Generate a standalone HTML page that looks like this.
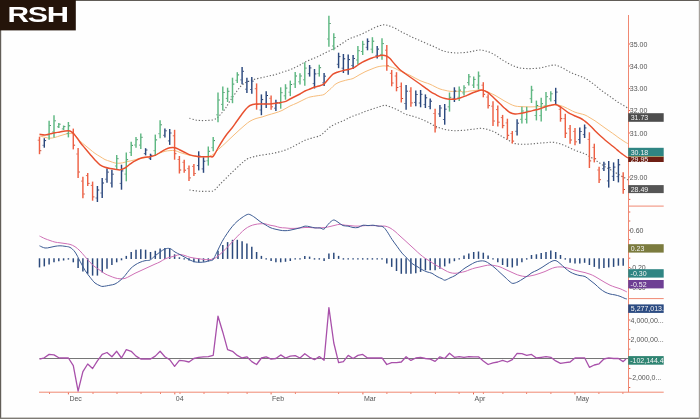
<!DOCTYPE html>
<html><head><meta charset="utf-8"><title>RSH</title>
<style>
html,body{margin:0;padding:0;background:#fff;}
body{width:700px;height:419px;overflow:hidden;}
svg{display:block;will-change:transform;}
text{font-family:"Liberation Sans",sans-serif;}
.ax{font-size:7px;fill:#555;}
.tg{font-size:7px;fill:#f4f4f4;}
.mo{font-size:7px;fill:#555;}
</style></head><body>
<svg width="700" height="419" viewBox="0 0 700 419">
<rect x="0" y="0" width="700" height="419" fill="#fefefe"/>
<rect x="0" y="0" width="700" height="0.9" fill="#504b45"/>
<rect x="0" y="0" width="1.2" height="419" fill="#625d57"/>
<rect x="0" y="417.6" width="700" height="1.4" fill="#7d7a74"/>
<rect x="698.8" y="0" width="1.2" height="419" fill="#a5a19c"/>
<rect x="0" y="0" width="75.8" height="30.4" fill="#24140a"/>
<text y="22.15" font-size="21.7" font-weight="bold" fill="#fff"><tspan x="7.6" textLength="21.6" lengthAdjust="spacingAndGlyphs">R</tspan><tspan x="27.8" textLength="20.2" lengthAdjust="spacingAndGlyphs">S</tspan><tspan x="46.8" textLength="22.3" lengthAdjust="spacingAndGlyphs">H</tspan></text>
<g stroke="#f08872" stroke-width="1" fill="none">
<path d="M628.5 15V392.2"/>
<path d="M39 392.2H663.7"/>
<path d="M628.5 206.1H663.7"/>
<path d="M628.5 298.6H663.7"/>
</g>
<g stroke="#e8604a" stroke-width="1">
<path d="M629 44.0h1.3"/><path d="M629 66.0h1.3"/><path d="M629 88.5h1.3"/><path d="M629 110.5h1.3"/><path d="M629 133.0h1.3"/><path d="M629 155.0h1.3"/><path d="M629 177.0h1.3"/><path d="M629 199.4h1.3"/><path d="M629 212.0h1.3"/><path d="M629 221.0h1.3"/><path d="M629 230.3h1.3"/><path d="M629 239.6h1.3"/><path d="M629 248.9h1.3"/><path d="M629 258.2h1.3"/><path d="M629 267.5h1.3"/><path d="M629 276.8h1.3"/><path d="M629 286.1h1.3"/><path d="M629 320.0h1.3"/><path d="M629 329.7h1.3"/><path d="M629 339.4h1.3"/><path d="M629 349.1h1.3"/><path d="M629 358.8h1.3"/><path d="M629 368.5h1.3"/><path d="M629 378.2h1.3"/><path d="M629 387.5h1.3"/>
</g>
<g stroke="#e8604a" stroke-width="1">
<path d="M49.5 392.6v1.2"/><path d="M93.0 392.6v1.2"/><path d="M117.0 392.6v1.2"/><path d="M141.0 392.6v1.2"/><path d="M160.5 392.6v1.2"/><path d="M180.0 392.6v1.2"/><path d="M204.0 392.6v1.2"/><path d="M228.0 392.6v1.2"/><path d="M247.1 392.6v1.2"/><path d="M295.4 392.6v1.2"/><path d="M338.6 392.6v1.2"/><path d="M386.9 392.6v1.2"/><path d="M410.9 392.6v1.2"/><path d="M435.4 392.6v1.2"/><path d="M459.1 392.6v1.2"/><path d="M483.4 392.6v1.2"/><path d="M502.9 392.6v1.2"/><path d="M526.6 392.6v1.2"/><path d="M550.9 392.6v1.2"/><path d="M598.9 392.6v1.2"/><path d="M622.9 392.6v1.2"/><path d="M68.4 392.6v1.8"/><path d="M174.8 392.6v1.8"/><path d="M271.1 392.6v1.8"/><path d="M362.9 392.6v1.8"/><path d="M473.5 392.6v1.8"/><path d="M574.9 392.6v1.8"/>
</g>
<text class="mo" x="69.4" y="401.2">Dec</text>
<text class="mo" x="175.8" y="401.2">04</text>
<text class="mo" x="272.1" y="401.2">Feb</text>
<text class="mo" x="363.9" y="401.2">Mar</text>
<text class="mo" x="474.5" y="401.2">Apr</text>
<text class="mo" x="575.9" y="401.2">May</text>
<path d="M189.4 118.3C190.3 118.5 193.2 119.4 195.0 119.8C196.8 120.2 198.2 120.4 200.0 120.5C201.8 120.6 203.8 120.6 206.0 120.5C208.2 120.4 211.2 120.3 213.0 119.9C214.8 119.5 215.8 118.8 217.0 118.0C218.2 117.2 218.7 116.5 220.0 115.0C221.3 113.5 223.3 111.3 225.0 109.0C226.7 106.7 228.0 104.0 230.0 101.0C232.0 98.0 235.0 93.7 237.0 91.0C239.0 88.3 240.3 86.5 242.0 85.0C243.7 83.5 245.3 82.8 247.0 82.0C248.7 81.2 249.8 80.7 252.0 80.0C254.2 79.3 257.3 78.6 260.0 78.0C262.7 77.4 265.5 76.8 268.0 76.2C270.5 75.6 272.5 75.3 275.0 74.6C277.5 73.9 280.5 72.8 283.0 72.0C285.5 71.2 288.0 70.5 290.0 69.8C292.0 69.0 293.3 68.3 295.0 67.5C296.7 66.7 298.3 65.9 300.0 65.0C301.7 64.1 303.0 63.0 305.0 62.0C307.0 61.0 309.7 60.0 312.0 59.0C314.3 58.0 316.5 57.2 319.0 56.0C321.5 54.8 324.3 53.3 327.0 52.0C329.7 50.7 332.5 49.4 335.0 48.0C337.5 46.6 339.8 44.9 342.0 43.5C344.2 42.1 346.0 40.7 348.0 39.6C350.0 38.5 352.0 37.8 354.0 37.0C356.0 36.2 358.0 35.6 360.0 34.8C362.0 34.0 364.3 32.8 366.0 32.0C367.7 31.2 368.5 30.8 370.0 30.0C371.5 29.2 373.3 28.2 375.0 27.5C376.7 26.8 378.5 25.9 380.0 25.5C381.5 25.1 382.7 24.8 384.0 24.8C385.3 24.8 386.7 25.1 388.0 25.5C389.3 25.9 390.5 26.3 392.0 26.9C393.5 27.5 395.3 28.4 397.0 29.3C398.7 30.2 400.3 31.3 402.0 32.2C403.7 33.1 405.3 33.8 407.0 34.6C408.7 35.4 410.3 36.4 412.0 37.2C413.7 38.0 415.3 38.7 417.0 39.4C418.7 40.1 420.3 40.8 422.0 41.5C423.7 42.2 425.3 43.0 427.0 43.7C428.7 44.4 430.3 45.1 432.0 45.8C433.7 46.5 435.3 47.2 437.0 48.0C438.7 48.8 440.3 49.8 442.0 50.4C443.7 51.0 445.3 51.4 447.0 51.8C448.7 52.2 450.3 52.4 452.0 52.6C453.7 52.8 455.3 53.0 457.0 53.0C458.7 53.0 460.3 52.8 462.0 52.7C463.7 52.6 465.5 52.5 467.0 52.3C468.5 52.1 469.7 51.9 471.0 51.6C472.3 51.3 473.5 51.0 475.0 50.7C476.5 50.4 478.3 50.0 480.0 50.0C481.7 50.0 483.3 50.4 485.0 50.8C486.7 51.2 488.3 51.7 490.0 52.4C491.7 53.1 493.3 54.0 495.0 55.0C496.7 56.0 498.3 57.3 500.0 58.4C501.7 59.5 503.3 60.5 505.0 61.5C506.7 62.5 508.3 63.5 510.0 64.3C511.7 65.1 513.3 65.9 515.0 66.5C516.7 67.1 518.3 67.7 520.0 68.0C521.7 68.3 523.3 68.4 525.0 68.5C526.7 68.6 528.3 68.6 530.0 68.6C531.7 68.6 533.3 68.5 535.0 68.4C536.7 68.3 538.3 68.3 540.0 68.0C541.7 67.7 543.3 67.2 545.0 66.8C546.7 66.4 548.3 66.0 550.0 65.7C551.7 65.4 553.3 64.8 555.0 65.0C556.7 65.2 558.3 66.0 560.0 66.7C561.7 67.4 563.3 68.4 565.0 69.3C566.7 70.2 568.3 71.4 570.0 72.2C571.7 73.0 573.3 73.6 575.0 74.3C576.7 75.0 578.3 75.5 580.0 76.2C581.7 76.9 583.3 77.3 585.0 78.2C586.7 79.1 588.3 80.3 590.0 81.5C591.7 82.7 593.3 83.8 595.0 85.1C596.7 86.4 598.3 88.1 600.0 89.4C601.7 90.7 603.3 91.8 605.0 93.0C606.7 94.2 608.3 95.3 610.0 96.5C611.7 97.7 613.3 98.9 615.0 100.1C616.7 101.2 618.3 102.4 620.0 103.4C621.7 104.4 623.7 105.5 625.0 106.3C626.3 107.1 627.5 108.0 628.0 108.3" fill="none" stroke="#6a6a6a" stroke-width="1.1" stroke-dasharray="1.3 1.9"/>
<path d="M189.4 190.0C190.3 190.1 193.2 190.6 195.0 190.8C196.8 191.0 198.2 191.2 200.0 191.3C201.8 191.4 203.8 191.4 206.0 191.3C208.2 191.2 211.2 191.6 213.0 191.0C214.8 190.4 215.8 188.6 217.0 187.5C218.2 186.4 218.7 185.7 220.0 184.3C221.3 182.9 223.3 181.0 225.0 179.3C226.7 177.6 228.3 175.9 230.0 174.3C231.7 172.7 233.3 171.1 235.0 169.5C236.7 167.9 238.5 166.2 240.0 164.8C241.5 163.4 242.7 162.3 244.0 161.3C245.3 160.3 246.3 159.4 248.0 158.6C249.7 157.8 252.0 157.1 254.0 156.6C256.0 156.1 257.7 155.8 260.0 155.4C262.3 155.0 265.5 154.6 268.0 154.2C270.5 153.8 272.5 153.5 275.0 152.9C277.5 152.3 280.5 151.6 283.0 150.8C285.5 150.0 287.7 149.2 290.0 148.2C292.3 147.1 294.5 145.8 297.0 144.5C299.5 143.2 302.5 141.4 305.0 140.3C307.5 139.2 309.5 138.8 312.0 138.0C314.5 137.2 317.8 136.7 320.0 135.6C322.2 134.5 323.3 132.9 325.0 131.5C326.7 130.1 328.0 128.4 330.0 127.0C332.0 125.6 334.5 124.5 337.0 123.3C339.5 122.1 342.5 121.0 345.0 119.9C347.5 118.8 349.5 117.5 352.0 116.5C354.5 115.5 357.5 114.5 360.0 113.6C362.5 112.6 364.5 111.7 367.0 110.8C369.5 109.9 372.8 108.9 375.0 108.2C377.2 107.5 378.3 107.0 380.0 106.5C381.7 106.0 383.3 105.2 385.0 105.3C386.7 105.3 388.3 106.2 390.0 106.8C391.7 107.4 393.3 108.0 395.0 108.7C396.7 109.4 398.3 110.3 400.0 111.2C401.7 112.1 403.3 113.3 405.0 114.0C406.7 114.7 408.3 115.0 410.0 115.5C411.7 116.0 413.3 116.3 415.0 116.8C416.7 117.3 418.3 118.0 420.0 118.7C421.7 119.4 423.3 119.9 425.0 120.7C426.7 121.5 428.3 122.4 430.0 123.3C431.7 124.2 433.3 125.2 435.0 126.0C436.7 126.8 438.3 127.4 440.0 128.0C441.7 128.6 443.3 129.1 445.0 129.5C446.7 129.9 448.3 130.1 450.0 130.3C451.7 130.5 453.3 130.7 455.0 130.7C456.7 130.7 458.3 130.6 460.0 130.5C461.7 130.4 463.3 130.3 465.0 130.2C466.7 130.0 468.3 129.8 470.0 129.6C471.7 129.4 473.3 129.2 475.0 129.0C476.7 128.8 478.3 128.3 480.0 128.3C481.7 128.3 483.3 128.5 485.0 128.8C486.7 129.1 488.3 129.7 490.0 130.3C491.7 130.9 493.3 131.5 495.0 132.3C496.7 133.1 498.3 134.3 500.0 135.3C501.7 136.3 503.3 137.3 505.0 138.3C506.7 139.3 508.3 140.3 510.0 141.2C511.7 142.1 513.3 143.1 515.0 143.6C516.7 144.1 518.3 144.1 520.0 144.2C521.7 144.3 523.3 144.3 525.0 144.3C526.7 144.3 528.3 144.1 530.0 144.0C531.7 143.9 533.3 143.8 535.0 143.6C536.7 143.4 538.3 143.1 540.0 143.0C541.7 142.9 543.3 142.9 545.0 142.8C546.7 142.7 548.3 142.4 550.0 142.3C551.7 142.2 553.3 142.2 555.0 142.5C556.7 142.8 558.3 143.3 560.0 143.8C561.7 144.3 563.3 145.0 565.0 145.7C566.7 146.4 568.3 147.2 570.0 148.0C571.7 148.8 573.3 149.6 575.0 150.3C576.7 151.0 578.3 151.4 580.0 152.0C581.7 152.6 583.3 153.0 585.0 153.8C586.7 154.6 588.3 155.8 590.0 156.8C591.7 157.8 593.3 158.9 595.0 160.0C596.7 161.1 598.3 162.2 600.0 163.3C601.7 164.4 603.3 165.7 605.0 166.7C606.7 167.7 608.3 168.6 610.0 169.5C611.7 170.4 613.3 171.5 615.0 172.4C616.7 173.3 618.3 174.3 620.0 175.2C621.7 176.1 623.7 177.2 625.0 178.0C626.3 178.8 627.5 179.7 628.0 180.0" fill="none" stroke="#6a6a6a" stroke-width="1.1" stroke-dasharray="1.3 1.9"/>
<path d="M39.5 135.8C40.4 136.1 43.2 136.9 45.0 137.3C46.8 137.7 48.3 138.2 50.0 138.2C51.7 138.2 53.3 137.8 55.0 137.4C56.7 137.0 58.3 136.3 60.0 135.8C61.7 135.3 63.3 134.7 65.0 134.3C66.7 133.9 68.3 133.3 70.0 133.4C71.7 133.5 73.3 133.7 75.0 135.0C76.7 136.3 78.3 139.3 80.0 141.0C81.7 142.7 83.3 143.9 85.0 145.3C86.7 146.7 88.3 148.1 90.0 149.4C91.7 150.8 93.3 152.2 95.0 153.4C96.7 154.6 98.3 155.5 100.0 156.5C101.7 157.5 103.3 158.8 105.0 159.6C106.7 160.4 108.3 160.7 110.0 161.3C111.7 161.9 113.3 162.7 115.0 163.0C116.7 163.3 118.3 163.3 120.0 163.2C121.7 163.1 123.3 162.6 125.0 162.2C126.7 161.8 128.3 161.4 130.0 161.0C131.7 160.6 133.3 160.2 135.0 159.8C136.7 159.4 138.3 158.8 140.0 158.5C141.7 158.2 143.3 158.0 145.0 157.7C146.7 157.4 148.3 157.2 150.0 156.8C151.7 156.4 153.3 155.6 155.0 155.0C156.7 154.4 158.3 153.6 160.0 153.0C161.7 152.4 163.3 151.7 165.0 151.3C166.7 150.9 168.3 150.7 170.0 150.6C171.7 150.5 173.3 150.3 175.0 150.6C176.7 150.9 178.3 151.9 180.0 152.5C181.7 153.1 183.3 153.5 185.0 154.0C186.7 154.5 188.3 155.0 190.0 155.4C191.7 155.8 193.3 156.1 195.0 156.3C196.7 156.5 198.3 156.8 200.0 156.8C201.7 156.9 203.3 156.7 205.0 156.6C206.7 156.5 208.7 156.3 210.0 156.0C211.3 155.7 211.8 155.3 213.0 154.5C214.2 153.7 215.8 152.1 217.0 151.0C218.2 149.9 218.7 149.2 220.0 148.0C221.3 146.8 223.3 145.1 225.0 143.5C226.7 141.9 228.3 140.3 230.0 138.7C231.7 137.1 233.3 135.6 235.0 134.0C236.7 132.4 238.3 130.9 240.0 129.4C241.7 127.9 243.3 126.4 245.0 125.0C246.7 123.6 248.2 122.3 250.0 121.2C251.8 120.1 254.0 119.2 256.0 118.5C258.0 117.8 260.0 117.6 262.0 117.0C264.0 116.4 265.8 115.7 268.0 115.0C270.2 114.3 272.7 113.8 275.0 113.0C277.3 112.2 279.5 111.7 282.0 110.5C284.5 109.3 287.5 107.2 290.0 106.0C292.5 104.8 294.5 104.2 297.0 103.0C299.5 101.8 302.8 100.0 305.0 99.0C307.2 98.0 308.0 97.5 310.0 97.0C312.0 96.5 314.7 96.2 317.0 95.8C319.3 95.4 322.2 95.3 324.0 94.5C325.8 93.7 326.8 92.0 328.0 91.0C329.2 90.0 329.8 89.6 331.0 88.5C332.2 87.4 333.7 85.5 335.0 84.5C336.3 83.5 337.7 82.9 339.0 82.3C340.3 81.7 341.5 81.4 343.0 81.0C344.5 80.6 346.3 80.1 348.0 79.7C349.7 79.3 351.2 79.3 353.0 78.5C354.8 77.7 357.0 76.1 359.0 75.0C361.0 73.9 363.0 72.8 365.0 71.8C367.0 70.8 369.0 70.1 371.0 69.3C373.0 68.5 375.3 67.5 377.0 67.0C378.7 66.5 379.7 66.4 381.0 66.2C382.3 66.0 383.5 65.8 385.0 65.9C386.5 66.0 388.3 66.3 390.0 66.7C391.7 67.1 393.3 67.7 395.0 68.4C396.7 69.1 398.3 70.2 400.0 71.0C401.7 71.8 403.3 72.3 405.0 73.0C406.7 73.7 408.3 74.5 410.0 75.3C411.7 76.1 413.3 77.1 415.0 78.0C416.7 78.9 418.3 79.8 420.0 80.6C421.7 81.3 423.3 81.9 425.0 82.5C426.7 83.1 428.3 83.5 430.0 84.2C431.7 84.9 433.3 85.9 435.0 86.7C436.7 87.5 438.3 88.4 440.0 89.0C441.7 89.6 443.3 89.9 445.0 90.3C446.7 90.7 448.3 91.1 450.0 91.3C451.7 91.5 453.3 91.4 455.0 91.4C456.7 91.4 458.3 91.2 460.0 91.3C461.7 91.4 463.3 92.0 465.0 92.0C466.7 92.0 468.3 91.2 470.0 91.0C471.7 90.8 473.3 90.7 475.0 90.5C476.7 90.3 478.3 90.0 480.0 90.0C481.7 90.0 483.3 90.3 485.0 90.8C486.7 91.3 488.3 92.2 490.0 93.0C491.7 93.8 493.3 94.4 495.0 95.3C496.7 96.2 498.3 97.3 500.0 98.3C501.7 99.3 503.3 100.3 505.0 101.3C506.7 102.2 508.3 103.2 510.0 104.0C511.7 104.8 513.3 105.6 515.0 106.0C516.7 106.4 518.3 106.5 520.0 106.6C521.7 106.7 523.3 106.8 525.0 106.8C526.7 106.8 528.3 106.9 530.0 106.9C531.7 106.9 533.3 106.9 535.0 106.8C536.7 106.7 538.3 106.6 540.0 106.5C541.7 106.4 543.3 106.2 545.0 106.0C546.7 105.8 548.3 105.5 550.0 105.3C551.7 105.1 553.3 104.7 555.0 104.7C556.7 104.7 558.3 105.1 560.0 105.5C561.7 105.9 563.3 106.6 565.0 107.3C566.7 108.0 568.3 109.0 570.0 109.8C571.7 110.6 573.3 111.6 575.0 112.2C576.7 112.8 578.3 113.1 580.0 113.6C581.7 114.1 583.3 114.3 585.0 115.0C586.7 115.7 588.3 116.8 590.0 117.8C591.7 118.8 593.3 119.7 595.0 120.8C596.7 121.9 598.3 123.2 600.0 124.4C601.7 125.6 603.3 126.8 605.0 128.0C606.7 129.2 608.3 130.3 610.0 131.5C611.7 132.7 613.5 133.9 615.0 135.0C616.5 136.1 617.8 137.2 619.0 138.0C620.2 138.8 621.0 139.3 622.0 140.0C623.0 140.7 624.0 141.4 625.0 142.0C626.0 142.6 627.5 143.4 628.0 143.7" fill="none" stroke="#f7bd7c" stroke-width="1"/>
<path d="M39.5 136.7V154.2" stroke="#ee6044" stroke-width="1.45"/><path d="M40.1 150.7h1.2" stroke="#c8442e" stroke-width="1"/><path d="M38.9 140.2h-1.2" stroke="#c8442e" stroke-width="1" opacity=".7"/><path d="M44.3 138.2V147.7" stroke="#2b487e" stroke-width="1.45"/><path d="M44.9 140.6h1.2" stroke="#22386a" stroke-width="1"/><path d="M43.7 145.3h-1.2" stroke="#22386a" stroke-width="1" opacity=".7"/><path d="M49.1 120.7V139.8" stroke="#5eb882" stroke-width="1.45"/><path d="M49.7 125.5h1.2" stroke="#3f8a5e" stroke-width="1"/><path d="M48.5 135.0h-1.2" stroke="#3f8a5e" stroke-width="1" opacity=".7"/><path d="M54.0 115.3V137.4" stroke="#5eb882" stroke-width="1.45"/><path d="M54.6 120.8h1.2" stroke="#3f8a5e" stroke-width="1"/><path d="M53.4 131.9h-1.2" stroke="#3f8a5e" stroke-width="1" opacity=".7"/><path d="M58.8 123.0V128.0" stroke="#5eb882" stroke-width="1.45"/><path d="M59.4 124.2h1.2" stroke="#3f8a5e" stroke-width="1"/><path d="M58.2 126.8h-1.2" stroke="#3f8a5e" stroke-width="1" opacity=".7"/><path d="M63.6 125.5V130.0" stroke="#5eb882" stroke-width="1.45"/><path d="M64.2 126.6h1.2" stroke="#3f8a5e" stroke-width="1"/><path d="M63.0 128.9h-1.2" stroke="#3f8a5e" stroke-width="1" opacity=".7"/><path d="M68.4 122.0V137.4" stroke="#5eb882" stroke-width="1.45"/><path d="M69.0 125.8h1.2" stroke="#3f8a5e" stroke-width="1"/><path d="M67.8 133.6h-1.2" stroke="#3f8a5e" stroke-width="1" opacity=".7"/><path d="M73.3 128.6V149.4" stroke="#ee6044" stroke-width="1.45"/><path d="M73.9 145.2h1.2" stroke="#c8442e" stroke-width="1"/><path d="M72.7 132.8h-1.2" stroke="#c8442e" stroke-width="1" opacity=".7"/><path d="M78.1 148.0V178.0" stroke="#ee6044" stroke-width="1.45"/><path d="M78.7 172.0h1.2" stroke="#c8442e" stroke-width="1"/><path d="M77.5 154.0h-1.2" stroke="#c8442e" stroke-width="1" opacity=".7"/><path d="M82.9 176.8V198.3" stroke="#ee6044" stroke-width="1.45"/><path d="M83.5 194.0h1.2" stroke="#c8442e" stroke-width="1"/><path d="M82.3 181.1h-1.2" stroke="#c8442e" stroke-width="1" opacity=".7"/><path d="M87.7 173.0V186.0" stroke="#ee6044" stroke-width="1.45"/><path d="M88.3 183.4h1.2" stroke="#c8442e" stroke-width="1"/><path d="M87.1 175.6h-1.2" stroke="#c8442e" stroke-width="1" opacity=".7"/><path d="M92.6 181.6V200.7" stroke="#ee6044" stroke-width="1.45"/><path d="M93.2 196.9h1.2" stroke="#c8442e" stroke-width="1"/><path d="M92.0 185.4h-1.2" stroke="#c8442e" stroke-width="1" opacity=".7"/><path d="M97.4 186.0V202.0" stroke="#2b487e" stroke-width="1.45"/><path d="M98.0 190.0h1.2" stroke="#22386a" stroke-width="1"/><path d="M96.8 198.0h-1.2" stroke="#22386a" stroke-width="1" opacity=".7"/><path d="M102.2 178.0V198.0" stroke="#2b487e" stroke-width="1.45"/><path d="M102.8 183.0h1.2" stroke="#22386a" stroke-width="1"/><path d="M101.6 193.0h-1.2" stroke="#22386a" stroke-width="1" opacity=".7"/><path d="M107.0 168.5V182.8" stroke="#2b487e" stroke-width="1.45"/><path d="M107.6 172.1h1.2" stroke="#22386a" stroke-width="1"/><path d="M106.4 179.2h-1.2" stroke="#22386a" stroke-width="1" opacity=".7"/><path d="M111.9 169.7V187.6" stroke="#2b487e" stroke-width="1.45"/><path d="M112.5 174.2h1.2" stroke="#22386a" stroke-width="1"/><path d="M111.3 183.1h-1.2" stroke="#22386a" stroke-width="1" opacity=".7"/><path d="M116.7 155.0V169.7" stroke="#5eb882" stroke-width="1.45"/><path d="M117.3 158.7h1.2" stroke="#3f8a5e" stroke-width="1"/><path d="M116.1 166.0h-1.2" stroke="#3f8a5e" stroke-width="1" opacity=".7"/><path d="M121.5 164.7V189.7" stroke="#2b487e" stroke-width="1.45"/><path d="M122.1 170.9h1.2" stroke="#22386a" stroke-width="1"/><path d="M120.9 183.4h-1.2" stroke="#22386a" stroke-width="1" opacity=".7"/><path d="M126.3 152.5V181.3" stroke="#5eb882" stroke-width="1.45"/><path d="M126.9 159.7h1.2" stroke="#3f8a5e" stroke-width="1"/><path d="M125.7 174.1h-1.2" stroke="#3f8a5e" stroke-width="1" opacity=".7"/><path d="M131.2 141.8V156.0" stroke="#5eb882" stroke-width="1.45"/><path d="M131.8 145.4h1.2" stroke="#3f8a5e" stroke-width="1"/><path d="M130.6 152.4h-1.2" stroke="#3f8a5e" stroke-width="1" opacity=".7"/><path d="M136.0 137.0V147.7" stroke="#5eb882" stroke-width="1.45"/><path d="M136.6 139.7h1.2" stroke="#3f8a5e" stroke-width="1"/><path d="M135.4 145.0h-1.2" stroke="#3f8a5e" stroke-width="1" opacity=".7"/><path d="M140.8 133.4V149.0" stroke="#5eb882" stroke-width="1.45"/><path d="M141.4 137.3h1.2" stroke="#3f8a5e" stroke-width="1"/><path d="M140.2 145.1h-1.2" stroke="#3f8a5e" stroke-width="1" opacity=".7"/><path d="M145.6 148.2V155.4" stroke="#2b487e" stroke-width="1.45"/><path d="M146.2 150.0h1.2" stroke="#22386a" stroke-width="1"/><path d="M145.0 153.6h-1.2" stroke="#22386a" stroke-width="1" opacity=".7"/><path d="M150.5 153.7V160.0" stroke="#2b487e" stroke-width="1.45"/><path d="M151.1 155.3h1.2" stroke="#22386a" stroke-width="1"/><path d="M149.9 158.4h-1.2" stroke="#22386a" stroke-width="1" opacity=".7"/><path d="M155.3 134.6V156.0" stroke="#5eb882" stroke-width="1.45"/><path d="M155.9 139.9h1.2" stroke="#3f8a5e" stroke-width="1"/><path d="M154.7 150.7h-1.2" stroke="#3f8a5e" stroke-width="1" opacity=".7"/><path d="M160.1 120.3V138.2" stroke="#5eb882" stroke-width="1.45"/><path d="M160.7 124.8h1.2" stroke="#3f8a5e" stroke-width="1"/><path d="M159.5 133.7h-1.2" stroke="#3f8a5e" stroke-width="1" opacity=".7"/><path d="M164.9 128.6V137.5" stroke="#2b487e" stroke-width="1.45"/><path d="M165.5 130.8h1.2" stroke="#22386a" stroke-width="1"/><path d="M164.3 135.3h-1.2" stroke="#22386a" stroke-width="1" opacity=".7"/><path d="M169.7 129.0V144.9" stroke="#2b487e" stroke-width="1.45"/><path d="M170.3 133.0h1.2" stroke="#22386a" stroke-width="1"/><path d="M169.1 140.9h-1.2" stroke="#22386a" stroke-width="1" opacity=".7"/><path d="M174.6 129.8V159.7" stroke="#ee6044" stroke-width="1.45"/><path d="M175.2 153.7h1.2" stroke="#c8442e" stroke-width="1"/><path d="M174.0 135.8h-1.2" stroke="#c8442e" stroke-width="1" opacity=".7"/><path d="M179.4 156.0V173.5" stroke="#ee6044" stroke-width="1.45"/><path d="M180.0 170.0h1.2" stroke="#c8442e" stroke-width="1"/><path d="M178.8 159.5h-1.2" stroke="#c8442e" stroke-width="1" opacity=".7"/><path d="M184.2 159.7V172.8" stroke="#ee6044" stroke-width="1.45"/><path d="M184.8 170.2h1.2" stroke="#c8442e" stroke-width="1"/><path d="M183.6 162.3h-1.2" stroke="#c8442e" stroke-width="1" opacity=".7"/><path d="M189.0 165.6V181.0" stroke="#ee6044" stroke-width="1.45"/><path d="M189.6 177.9h1.2" stroke="#c8442e" stroke-width="1"/><path d="M188.4 168.7h-1.2" stroke="#c8442e" stroke-width="1" opacity=".7"/><path d="M193.9 164.0V175.9" stroke="#ee6044" stroke-width="1.45"/><path d="M194.5 173.5h1.2" stroke="#c8442e" stroke-width="1"/><path d="M193.3 166.4h-1.2" stroke="#c8442e" stroke-width="1" opacity=".7"/><path d="M198.7 151.3V170.4" stroke="#2b487e" stroke-width="1.45"/><path d="M199.3 156.1h1.2" stroke="#22386a" stroke-width="1"/><path d="M198.1 165.6h-1.2" stroke="#22386a" stroke-width="1" opacity=".7"/><path d="M203.5 157.3V172.8" stroke="#2b487e" stroke-width="1.45"/><path d="M204.1 161.2h1.2" stroke="#22386a" stroke-width="1"/><path d="M202.9 168.9h-1.2" stroke="#22386a" stroke-width="1" opacity=".7"/><path d="M208.3 146.5V165.6" stroke="#5eb882" stroke-width="1.45"/><path d="M208.9 151.3h1.2" stroke="#3f8a5e" stroke-width="1"/><path d="M207.7 160.8h-1.2" stroke="#3f8a5e" stroke-width="1" opacity=".7"/><path d="M213.2 137.0V151.3" stroke="#5eb882" stroke-width="1.45"/><path d="M213.8 140.6h1.2" stroke="#3f8a5e" stroke-width="1"/><path d="M212.6 147.7h-1.2" stroke="#3f8a5e" stroke-width="1" opacity=".7"/><path d="M218.0 92.5V122.3" stroke="#5eb882" stroke-width="1.45"/><path d="M218.6 100.0h1.2" stroke="#3f8a5e" stroke-width="1"/><path d="M217.4 114.8h-1.2" stroke="#3f8a5e" stroke-width="1" opacity=".7"/><path d="M222.8 86.5V110.4" stroke="#5eb882" stroke-width="1.45"/><path d="M223.4 92.5h1.2" stroke="#3f8a5e" stroke-width="1"/><path d="M222.2 104.4h-1.2" stroke="#3f8a5e" stroke-width="1" opacity=".7"/><path d="M227.6 87.7V102.0" stroke="#5eb882" stroke-width="1.45"/><path d="M228.2 91.3h1.2" stroke="#3f8a5e" stroke-width="1"/><path d="M227.0 98.4h-1.2" stroke="#3f8a5e" stroke-width="1" opacity=".7"/><path d="M232.5 77.7V103.2" stroke="#5eb882" stroke-width="1.45"/><path d="M233.1 84.1h1.2" stroke="#3f8a5e" stroke-width="1"/><path d="M231.9 96.8h-1.2" stroke="#3f8a5e" stroke-width="1" opacity=".7"/><path d="M237.3 72.2V83.0" stroke="#5eb882" stroke-width="1.45"/><path d="M237.9 74.9h1.2" stroke="#3f8a5e" stroke-width="1"/><path d="M236.7 80.3h-1.2" stroke="#3f8a5e" stroke-width="1" opacity=".7"/><path d="M242.1 67.0V84.2" stroke="#2b487e" stroke-width="1.45"/><path d="M242.7 71.3h1.2" stroke="#22386a" stroke-width="1"/><path d="M241.5 79.9h-1.2" stroke="#22386a" stroke-width="1" opacity=".7"/><path d="M246.9 77.7V93.0" stroke="#2b487e" stroke-width="1.45"/><path d="M247.5 81.5h1.2" stroke="#22386a" stroke-width="1"/><path d="M246.3 89.2h-1.2" stroke="#22386a" stroke-width="1" opacity=".7"/><path d="M251.8 77.0V93.7" stroke="#2b487e" stroke-width="1.45"/><path d="M252.4 81.2h1.2" stroke="#22386a" stroke-width="1"/><path d="M251.2 89.5h-1.2" stroke="#22386a" stroke-width="1" opacity=".7"/><path d="M256.6 83.4V109.7" stroke="#ee6044" stroke-width="1.45"/><path d="M257.2 104.4h1.2" stroke="#c8442e" stroke-width="1"/><path d="M256.0 88.7h-1.2" stroke="#c8442e" stroke-width="1" opacity=".7"/><path d="M261.4 94.4V115.2" stroke="#2b487e" stroke-width="1.45"/><path d="M262.0 99.6h1.2" stroke="#22386a" stroke-width="1"/><path d="M260.8 110.0h-1.2" stroke="#22386a" stroke-width="1" opacity=".7"/><path d="M266.2 91.3V108.0" stroke="#2b487e" stroke-width="1.45"/><path d="M266.8 95.5h1.2" stroke="#22386a" stroke-width="1"/><path d="M265.6 103.8h-1.2" stroke="#22386a" stroke-width="1" opacity=".7"/><path d="M271.1 95.4V109.7" stroke="#ee6044" stroke-width="1.45"/><path d="M271.7 106.8h1.2" stroke="#c8442e" stroke-width="1"/><path d="M270.5 98.3h-1.2" stroke="#c8442e" stroke-width="1" opacity=".7"/><path d="M275.9 99.7V111.1" stroke="#2b487e" stroke-width="1.45"/><path d="M276.5 102.5h1.2" stroke="#22386a" stroke-width="1"/><path d="M275.3 108.2h-1.2" stroke="#22386a" stroke-width="1" opacity=".7"/><path d="M280.7 87.3V108.7" stroke="#5eb882" stroke-width="1.45"/><path d="M281.3 92.7h1.2" stroke="#3f8a5e" stroke-width="1"/><path d="M280.1 103.3h-1.2" stroke="#3f8a5e" stroke-width="1" opacity=".7"/><path d="M285.5 84.2V99.7" stroke="#5eb882" stroke-width="1.45"/><path d="M286.1 88.1h1.2" stroke="#3f8a5e" stroke-width="1"/><path d="M284.9 95.8h-1.2" stroke="#3f8a5e" stroke-width="1" opacity=".7"/><path d="M290.3 80.6V96.1" stroke="#5eb882" stroke-width="1.45"/><path d="M290.9 84.5h1.2" stroke="#3f8a5e" stroke-width="1"/><path d="M289.7 92.2h-1.2" stroke="#3f8a5e" stroke-width="1" opacity=".7"/><path d="M295.2 72.0V88.0" stroke="#5eb882" stroke-width="1.45"/><path d="M295.8 76.0h1.2" stroke="#3f8a5e" stroke-width="1"/><path d="M294.6 84.0h-1.2" stroke="#3f8a5e" stroke-width="1" opacity=".7"/><path d="M300.0 73.2V84.6" stroke="#5eb882" stroke-width="1.45"/><path d="M300.6 76.0h1.2" stroke="#3f8a5e" stroke-width="1"/><path d="M299.4 81.8h-1.2" stroke="#3f8a5e" stroke-width="1" opacity=".7"/><path d="M304.8 62.2V85.7" stroke="#5eb882" stroke-width="1.45"/><path d="M305.4 68.1h1.2" stroke="#3f8a5e" stroke-width="1"/><path d="M304.2 79.8h-1.2" stroke="#3f8a5e" stroke-width="1" opacity=".7"/><path d="M309.6 65.0V76.6" stroke="#2b487e" stroke-width="1.45"/><path d="M310.2 67.9h1.2" stroke="#22386a" stroke-width="1"/><path d="M309.0 73.7h-1.2" stroke="#22386a" stroke-width="1" opacity=".7"/><path d="M314.5 69.0V88.5" stroke="#2b487e" stroke-width="1.45"/><path d="M315.1 73.9h1.2" stroke="#22386a" stroke-width="1"/><path d="M313.9 83.6h-1.2" stroke="#22386a" stroke-width="1" opacity=".7"/><path d="M319.3 64.7V76.6" stroke="#5eb882" stroke-width="1.45"/><path d="M319.9 67.7h1.2" stroke="#3f8a5e" stroke-width="1"/><path d="M318.7 73.6h-1.2" stroke="#3f8a5e" stroke-width="1" opacity=".7"/><path d="M324.1 73.0V86.0" stroke="#2b487e" stroke-width="1.45"/><path d="M324.7 76.2h1.2" stroke="#22386a" stroke-width="1"/><path d="M323.5 82.8h-1.2" stroke="#22386a" stroke-width="1" opacity=".7"/><path d="M328.9 15.7V46.8" stroke="#5eb882" stroke-width="1.45"/><path d="M329.5 23.5h1.2" stroke="#3f8a5e" stroke-width="1"/><path d="M328.3 39.0h-1.2" stroke="#3f8a5e" stroke-width="1" opacity=".7"/><path d="M333.8 33.2V50.3" stroke="#5eb882" stroke-width="1.45"/><path d="M334.4 37.5h1.2" stroke="#3f8a5e" stroke-width="1"/><path d="M333.2 46.0h-1.2" stroke="#3f8a5e" stroke-width="1" opacity=".7"/><path d="M338.6 52.7V68.2" stroke="#2b487e" stroke-width="1.45"/><path d="M339.2 56.6h1.2" stroke="#22386a" stroke-width="1"/><path d="M338.0 64.3h-1.2" stroke="#22386a" stroke-width="1" opacity=".7"/><path d="M343.4 54.0V73.0" stroke="#2b487e" stroke-width="1.45"/><path d="M344.0 58.8h1.2" stroke="#22386a" stroke-width="1"/><path d="M342.8 68.2h-1.2" stroke="#22386a" stroke-width="1" opacity=".7"/><path d="M348.2 54.6V74.7" stroke="#2b487e" stroke-width="1.45"/><path d="M348.8 59.6h1.2" stroke="#22386a" stroke-width="1"/><path d="M347.6 69.7h-1.2" stroke="#22386a" stroke-width="1" opacity=".7"/><path d="M353.1 55.0V69.0" stroke="#2b487e" stroke-width="1.45"/><path d="M353.7 58.5h1.2" stroke="#22386a" stroke-width="1"/><path d="M352.5 65.5h-1.2" stroke="#22386a" stroke-width="1" opacity=".7"/><path d="M357.9 46.0V64.7" stroke="#5eb882" stroke-width="1.45"/><path d="M358.5 50.7h1.2" stroke="#3f8a5e" stroke-width="1"/><path d="M357.3 60.0h-1.2" stroke="#3f8a5e" stroke-width="1" opacity=".7"/><path d="M362.7 40.8V55.0" stroke="#5eb882" stroke-width="1.45"/><path d="M363.3 44.3h1.2" stroke="#3f8a5e" stroke-width="1"/><path d="M362.1 51.5h-1.2" stroke="#3f8a5e" stroke-width="1" opacity=".7"/><path d="M367.5 38.4V50.3" stroke="#2b487e" stroke-width="1.45"/><path d="M368.1 41.4h1.2" stroke="#22386a" stroke-width="1"/><path d="M366.9 47.3h-1.2" stroke="#22386a" stroke-width="1" opacity=".7"/><path d="M372.4 37.2V53.2" stroke="#5eb882" stroke-width="1.45"/><path d="M373.0 41.2h1.2" stroke="#3f8a5e" stroke-width="1"/><path d="M371.8 49.2h-1.2" stroke="#3f8a5e" stroke-width="1" opacity=".7"/><path d="M377.2 46.0V58.5" stroke="#2b487e" stroke-width="1.45"/><path d="M377.8 49.1h1.2" stroke="#22386a" stroke-width="1"/><path d="M376.6 55.4h-1.2" stroke="#22386a" stroke-width="1" opacity=".7"/><path d="M382.0 38.2V59.8" stroke="#5eb882" stroke-width="1.45"/><path d="M382.6 43.6h1.2" stroke="#3f8a5e" stroke-width="1"/><path d="M381.4 54.4h-1.2" stroke="#3f8a5e" stroke-width="1" opacity=".7"/><path d="M386.8 45.0V70.8" stroke="#ee6044" stroke-width="1.45"/><path d="M387.4 65.6h1.2" stroke="#c8442e" stroke-width="1"/><path d="M386.2 50.2h-1.2" stroke="#c8442e" stroke-width="1" opacity=".7"/><path d="M391.7 70.0V86.3" stroke="#ee6044" stroke-width="1.45"/><path d="M392.3 83.0h1.2" stroke="#c8442e" stroke-width="1"/><path d="M391.1 73.3h-1.2" stroke="#c8442e" stroke-width="1" opacity=".7"/><path d="M396.5 72.2V91.3" stroke="#ee6044" stroke-width="1.45"/><path d="M397.1 87.5h1.2" stroke="#c8442e" stroke-width="1"/><path d="M395.9 76.0h-1.2" stroke="#c8442e" stroke-width="1" opacity=".7"/><path d="M401.3 82.5V102.5" stroke="#ee6044" stroke-width="1.45"/><path d="M401.9 98.5h1.2" stroke="#c8442e" stroke-width="1"/><path d="M400.7 86.5h-1.2" stroke="#c8442e" stroke-width="1" opacity=".7"/><path d="M406.1 85.0V109.7" stroke="#2b487e" stroke-width="1.45"/><path d="M406.7 91.2h1.2" stroke="#22386a" stroke-width="1"/><path d="M405.5 103.5h-1.2" stroke="#22386a" stroke-width="1" opacity=".7"/><path d="M410.9 87.3V106.8" stroke="#ee6044" stroke-width="1.45"/><path d="M411.5 102.9h1.2" stroke="#c8442e" stroke-width="1"/><path d="M410.3 91.2h-1.2" stroke="#c8442e" stroke-width="1" opacity=".7"/><path d="M415.8 90.6V106.3" stroke="#2b487e" stroke-width="1.45"/><path d="M416.4 94.5h1.2" stroke="#22386a" stroke-width="1"/><path d="M415.2 102.4h-1.2" stroke="#22386a" stroke-width="1" opacity=".7"/><path d="M420.6 90.0V107.3" stroke="#2b487e" stroke-width="1.45"/><path d="M421.2 94.3h1.2" stroke="#22386a" stroke-width="1"/><path d="M420.0 103.0h-1.2" stroke="#22386a" stroke-width="1" opacity=".7"/><path d="M425.4 94.4V108.0" stroke="#2b487e" stroke-width="1.45"/><path d="M426.0 97.8h1.2" stroke="#22386a" stroke-width="1"/><path d="M424.8 104.6h-1.2" stroke="#22386a" stroke-width="1" opacity=".7"/><path d="M430.2 98.5V109.2" stroke="#2b487e" stroke-width="1.45"/><path d="M430.8 101.2h1.2" stroke="#22386a" stroke-width="1"/><path d="M429.6 106.5h-1.2" stroke="#22386a" stroke-width="1" opacity=".7"/><path d="M435.1 108.7V132.6" stroke="#ee6044" stroke-width="1.45"/><path d="M435.7 127.8h1.2" stroke="#c8442e" stroke-width="1"/><path d="M434.5 113.5h-1.2" stroke="#c8442e" stroke-width="1" opacity=".7"/><path d="M439.9 105.0V116.9" stroke="#2b487e" stroke-width="1.45"/><path d="M440.5 108.0h1.2" stroke="#22386a" stroke-width="1"/><path d="M439.3 113.9h-1.2" stroke="#22386a" stroke-width="1" opacity=".7"/><path d="M444.7 104.0V124.7" stroke="#2b487e" stroke-width="1.45"/><path d="M445.3 109.2h1.2" stroke="#22386a" stroke-width="1"/><path d="M444.1 119.5h-1.2" stroke="#22386a" stroke-width="1" opacity=".7"/><path d="M449.5 92.5V111.6" stroke="#5eb882" stroke-width="1.45"/><path d="M450.1 97.3h1.2" stroke="#3f8a5e" stroke-width="1"/><path d="M448.9 106.8h-1.2" stroke="#3f8a5e" stroke-width="1" opacity=".7"/><path d="M454.4 87.3V102.0" stroke="#2b487e" stroke-width="1.45"/><path d="M455.0 91.0h1.2" stroke="#22386a" stroke-width="1"/><path d="M453.8 98.3h-1.2" stroke="#22386a" stroke-width="1" opacity=".7"/><path d="M459.2 86.5V100.9" stroke="#5eb882" stroke-width="1.45"/><path d="M459.8 90.1h1.2" stroke="#3f8a5e" stroke-width="1"/><path d="M458.6 97.3h-1.2" stroke="#3f8a5e" stroke-width="1" opacity=".7"/><path d="M464.0 85.3V95.4" stroke="#5eb882" stroke-width="1.45"/><path d="M464.6 87.8h1.2" stroke="#3f8a5e" stroke-width="1"/><path d="M463.4 92.9h-1.2" stroke="#3f8a5e" stroke-width="1" opacity=".7"/><path d="M468.8 73.9V85.5" stroke="#5eb882" stroke-width="1.45"/><path d="M469.4 76.8h1.2" stroke="#3f8a5e" stroke-width="1"/><path d="M468.2 82.6h-1.2" stroke="#3f8a5e" stroke-width="1" opacity=".7"/><path d="M473.7 76.5V88.0" stroke="#5eb882" stroke-width="1.45"/><path d="M474.3 79.4h1.2" stroke="#3f8a5e" stroke-width="1"/><path d="M473.1 85.1h-1.2" stroke="#3f8a5e" stroke-width="1" opacity=".7"/><path d="M478.5 71.5V89.5" stroke="#5eb882" stroke-width="1.45"/><path d="M479.1 76.0h1.2" stroke="#3f8a5e" stroke-width="1"/><path d="M477.9 85.0h-1.2" stroke="#3f8a5e" stroke-width="1" opacity=".7"/><path d="M483.3 82.2V97.3" stroke="#ee6044" stroke-width="1.45"/><path d="M483.9 94.3h1.2" stroke="#c8442e" stroke-width="1"/><path d="M482.7 85.2h-1.2" stroke="#c8442e" stroke-width="1" opacity=".7"/><path d="M488.1 94.2V108.5" stroke="#ee6044" stroke-width="1.45"/><path d="M488.7 105.6h1.2" stroke="#c8442e" stroke-width="1"/><path d="M487.5 97.1h-1.2" stroke="#c8442e" stroke-width="1" opacity=".7"/><path d="M493.0 101.3V125.9" stroke="#ee6044" stroke-width="1.45"/><path d="M493.6 121.0h1.2" stroke="#c8442e" stroke-width="1"/><path d="M492.4 106.2h-1.2" stroke="#c8442e" stroke-width="1" opacity=".7"/><path d="M497.8 105.4V126.4" stroke="#ee6044" stroke-width="1.45"/><path d="M498.4 122.2h1.2" stroke="#c8442e" stroke-width="1"/><path d="M497.2 109.6h-1.2" stroke="#c8442e" stroke-width="1" opacity=".7"/><path d="M502.6 114.9V128.3" stroke="#ee6044" stroke-width="1.45"/><path d="M503.2 125.6h1.2" stroke="#c8442e" stroke-width="1"/><path d="M502.0 117.6h-1.2" stroke="#c8442e" stroke-width="1" opacity=".7"/><path d="M507.4 118.7V139.5" stroke="#ee6044" stroke-width="1.45"/><path d="M508.0 135.3h1.2" stroke="#c8442e" stroke-width="1"/><path d="M506.8 122.9h-1.2" stroke="#c8442e" stroke-width="1" opacity=".7"/><path d="M512.3 131.0V143.6" stroke="#ee6044" stroke-width="1.45"/><path d="M512.9 141.1h1.2" stroke="#c8442e" stroke-width="1"/><path d="M511.7 133.5h-1.2" stroke="#c8442e" stroke-width="1" opacity=".7"/><path d="M517.1 119.2V135.4" stroke="#2b487e" stroke-width="1.45"/><path d="M517.7 123.2h1.2" stroke="#22386a" stroke-width="1"/><path d="M516.5 131.3h-1.2" stroke="#22386a" stroke-width="1" opacity=".7"/><path d="M521.9 106.8V123.5" stroke="#5eb882" stroke-width="1.45"/><path d="M522.5 111.0h1.2" stroke="#3f8a5e" stroke-width="1"/><path d="M521.3 119.3h-1.2" stroke="#3f8a5e" stroke-width="1" opacity=".7"/><path d="M526.7 106.8V123.5" stroke="#5eb882" stroke-width="1.45"/><path d="M527.3 111.0h1.2" stroke="#3f8a5e" stroke-width="1"/><path d="M526.1 119.3h-1.2" stroke="#3f8a5e" stroke-width="1" opacity=".7"/><path d="M531.5 85.8V103.0" stroke="#5eb882" stroke-width="1.45"/><path d="M532.1 90.1h1.2" stroke="#3f8a5e" stroke-width="1"/><path d="M530.9 98.7h-1.2" stroke="#3f8a5e" stroke-width="1" opacity=".7"/><path d="M536.4 100.6V120.4" stroke="#5eb882" stroke-width="1.45"/><path d="M537.0 105.5h1.2" stroke="#3f8a5e" stroke-width="1"/><path d="M535.8 115.5h-1.2" stroke="#3f8a5e" stroke-width="1" opacity=".7"/><path d="M541.2 97.7V121.6" stroke="#5eb882" stroke-width="1.45"/><path d="M541.8 103.7h1.2" stroke="#3f8a5e" stroke-width="1"/><path d="M540.6 115.6h-1.2" stroke="#3f8a5e" stroke-width="1" opacity=".7"/><path d="M546.0 92.0V110.8" stroke="#5eb882" stroke-width="1.45"/><path d="M546.6 96.7h1.2" stroke="#3f8a5e" stroke-width="1"/><path d="M545.4 106.1h-1.2" stroke="#3f8a5e" stroke-width="1" opacity=".7"/><path d="M550.8 91.2V101.5" stroke="#5eb882" stroke-width="1.45"/><path d="M551.4 93.8h1.2" stroke="#3f8a5e" stroke-width="1"/><path d="M550.2 98.9h-1.2" stroke="#3f8a5e" stroke-width="1" opacity=".7"/><path d="M555.7 87.8V105.0" stroke="#2b487e" stroke-width="1.45"/><path d="M556.3 92.1h1.2" stroke="#22386a" stroke-width="1"/><path d="M555.1 100.7h-1.2" stroke="#22386a" stroke-width="1" opacity=".7"/><path d="M560.5 106.2V121.7" stroke="#ee6044" stroke-width="1.45"/><path d="M561.1 118.6h1.2" stroke="#c8442e" stroke-width="1"/><path d="M559.9 109.3h-1.2" stroke="#c8442e" stroke-width="1" opacity=".7"/><path d="M565.3 113.8V138.0" stroke="#ee6044" stroke-width="1.45"/><path d="M565.9 133.2h1.2" stroke="#c8442e" stroke-width="1"/><path d="M564.7 118.6h-1.2" stroke="#c8442e" stroke-width="1" opacity=".7"/><path d="M570.1 125.0V143.7" stroke="#ee6044" stroke-width="1.45"/><path d="M570.7 140.0h1.2" stroke="#c8442e" stroke-width="1"/><path d="M569.5 128.7h-1.2" stroke="#c8442e" stroke-width="1" opacity=".7"/><path d="M575.0 128.0V145.2" stroke="#ee6044" stroke-width="1.45"/><path d="M575.6 141.8h1.2" stroke="#c8442e" stroke-width="1"/><path d="M574.4 131.4h-1.2" stroke="#c8442e" stroke-width="1" opacity=".7"/><path d="M579.8 127.4V143.7" stroke="#2b487e" stroke-width="1.45"/><path d="M580.4 131.5h1.2" stroke="#22386a" stroke-width="1"/><path d="M579.2 139.6h-1.2" stroke="#22386a" stroke-width="1" opacity=".7"/><path d="M584.6 124.5V138.0" stroke="#2b487e" stroke-width="1.45"/><path d="M585.2 127.9h1.2" stroke="#22386a" stroke-width="1"/><path d="M584.0 134.6h-1.2" stroke="#22386a" stroke-width="1" opacity=".7"/><path d="M589.4 132.3V168.0" stroke="#ee6044" stroke-width="1.45"/><path d="M590.0 160.9h1.2" stroke="#c8442e" stroke-width="1"/><path d="M588.8 139.4h-1.2" stroke="#c8442e" stroke-width="1" opacity=".7"/><path d="M594.3 143.7V162.4" stroke="#ee6044" stroke-width="1.45"/><path d="M594.9 158.7h1.2" stroke="#c8442e" stroke-width="1"/><path d="M593.7 147.4h-1.2" stroke="#c8442e" stroke-width="1" opacity=".7"/><path d="M599.1 166.7V183.0" stroke="#ee6044" stroke-width="1.45"/><path d="M599.7 179.7h1.2" stroke="#c8442e" stroke-width="1"/><path d="M598.5 170.0h-1.2" stroke="#c8442e" stroke-width="1" opacity=".7"/><path d="M603.9 161.8V171.0" stroke="#2b487e" stroke-width="1.45"/><path d="M604.5 164.1h1.2" stroke="#22386a" stroke-width="1"/><path d="M603.3 168.7h-1.2" stroke="#22386a" stroke-width="1" opacity=".7"/><path d="M608.7 161.0V187.6" stroke="#2b487e" stroke-width="1.45"/><path d="M609.3 167.7h1.2" stroke="#22386a" stroke-width="1"/><path d="M608.1 180.9h-1.2" stroke="#22386a" stroke-width="1" opacity=".7"/><path d="M613.6 162.4V181.0" stroke="#2b487e" stroke-width="1.45"/><path d="M614.2 167.1h1.2" stroke="#22386a" stroke-width="1"/><path d="M613.0 176.3h-1.2" stroke="#22386a" stroke-width="1" opacity=".7"/><path d="M618.4 159.0V182.4" stroke="#2b487e" stroke-width="1.45"/><path d="M619.0 164.8h1.2" stroke="#22386a" stroke-width="1"/><path d="M617.8 176.6h-1.2" stroke="#22386a" stroke-width="1" opacity=".7"/><path d="M623.2 172.3V193.8" stroke="#ee6044" stroke-width="1.45"/><path d="M623.8 189.5h1.2" stroke="#c8442e" stroke-width="1"/><path d="M622.6 176.6h-1.2" stroke="#c8442e" stroke-width="1" opacity=".7"/>
<path d="M39.5 134.3C40.4 134.4 43.2 135.1 45.0 135.0C46.8 134.9 48.3 134.3 50.0 133.9C51.7 133.5 53.3 133.0 55.0 132.7C56.7 132.4 58.3 132.3 60.0 132.0C61.7 131.7 63.3 131.2 65.0 131.0C66.7 130.8 68.5 130.5 70.0 131.0C71.5 131.5 72.3 132.0 74.0 133.9C75.7 135.8 78.2 139.8 80.0 142.2C81.8 144.6 83.3 146.2 85.0 148.2C86.7 150.2 88.3 152.2 90.0 154.2C91.7 156.2 93.3 158.2 95.0 160.0C96.7 161.8 98.3 163.7 100.0 164.9C101.7 166.1 103.3 166.7 105.0 167.3C106.7 167.9 108.3 168.2 110.0 168.5C111.7 168.8 113.3 169.0 115.0 169.2C116.7 169.4 118.3 170.1 120.0 169.9C121.7 169.7 123.3 168.9 125.0 168.0C126.7 167.1 128.3 165.4 130.0 164.2C131.7 163.0 133.3 161.8 135.0 160.9C136.7 160.0 138.3 159.1 140.0 158.5C141.7 157.9 143.3 157.6 145.0 157.3C146.7 157.0 148.3 157.1 150.0 156.8C151.7 156.5 153.3 156.1 155.0 155.4C156.7 154.7 158.3 153.5 160.0 152.5C161.7 151.5 163.3 150.4 165.0 149.6C166.7 148.8 168.3 148.0 170.0 147.7C171.7 147.4 173.3 147.3 175.0 147.7C176.7 148.1 178.3 149.2 180.0 150.0C181.7 150.8 183.3 151.7 185.0 152.5C186.7 153.3 188.3 154.3 190.0 154.9C191.7 155.5 193.3 155.7 195.0 156.0C196.7 156.3 198.3 156.7 200.0 156.8C201.7 156.9 203.3 156.8 205.0 156.8C206.7 156.8 208.6 156.7 210.0 156.6C211.4 156.5 212.0 157.7 213.3 156.3C214.6 154.9 216.4 150.7 218.0 148.0C219.6 145.3 221.4 142.3 222.9 140.0C224.4 137.7 225.5 136.0 227.0 134.0C228.5 132.0 230.3 130.2 232.0 128.0C233.7 125.8 235.3 123.3 237.0 121.0C238.7 118.7 240.5 116.0 242.0 114.0C243.5 112.0 244.7 110.4 246.0 109.0C247.3 107.6 248.3 106.3 250.0 105.5C251.7 104.7 253.8 104.2 256.0 104.0C258.2 103.8 260.7 104.0 263.0 104.0C265.3 104.0 267.5 104.2 270.0 104.0C272.5 103.8 275.5 103.4 278.0 103.0C280.5 102.6 283.0 102.3 285.0 101.6C287.0 100.9 288.3 99.8 290.0 99.0C291.7 98.2 293.3 97.3 295.0 96.5C296.7 95.7 298.3 94.9 300.0 94.0C301.7 93.1 303.3 91.8 305.0 91.0C306.7 90.2 308.5 89.6 310.0 89.0C311.5 88.4 312.5 87.8 314.0 87.3C315.5 86.8 317.3 86.6 319.0 86.0C320.7 85.4 322.5 84.9 324.0 83.8C325.5 82.7 326.5 81.1 328.0 79.5C329.5 77.9 331.3 75.5 333.0 74.2C334.7 73.0 336.3 72.6 338.0 72.0C339.7 71.4 341.3 71.0 343.0 70.6C344.7 70.2 346.3 69.9 348.0 69.5C349.7 69.1 351.3 69.0 353.0 68.2C354.7 67.5 356.5 66.0 358.0 65.0C359.5 64.0 360.5 63.1 362.0 62.3C363.5 61.5 365.3 60.7 367.0 60.0C368.7 59.3 370.3 58.6 372.0 58.0C373.7 57.4 375.3 57.0 377.0 56.5C378.7 56.0 380.5 55.4 382.0 55.3C383.5 55.2 384.7 55.2 386.0 55.8C387.3 56.3 388.5 57.1 390.0 58.6C391.5 60.1 393.3 62.6 395.0 64.5C396.7 66.4 398.3 68.3 400.0 69.8C401.7 71.3 403.3 72.3 405.0 73.5C406.7 74.7 408.3 75.8 410.0 77.0C411.7 78.2 413.3 79.3 415.0 80.5C416.7 81.7 418.3 82.8 420.0 84.0C421.7 85.2 423.3 86.4 425.0 87.6C426.7 88.8 428.3 90.2 430.0 91.3C431.7 92.4 433.3 93.3 435.0 94.2C436.7 95.1 438.3 96.1 440.0 96.8C441.7 97.5 443.3 98.1 445.0 98.5C446.7 98.9 448.3 99.1 450.0 99.2C451.7 99.3 453.3 99.4 455.0 99.2C456.7 99.0 458.3 98.5 460.0 98.0C461.7 97.5 463.3 96.9 465.0 96.2C466.7 95.5 468.3 94.7 470.0 94.0C471.7 93.3 473.3 92.6 475.0 92.0C476.7 91.4 478.7 90.6 480.0 90.3C481.3 90.0 481.8 89.9 483.0 90.2C484.2 90.5 485.8 91.3 487.0 92.0C488.2 92.7 488.7 93.0 490.0 94.2C491.3 95.4 493.3 97.4 495.0 99.0C496.7 100.6 498.3 102.1 500.0 103.7C501.7 105.3 503.3 107.0 505.0 108.5C506.7 110.0 508.3 111.6 510.0 112.5C511.7 113.4 513.3 113.8 515.0 114.0C516.7 114.2 518.3 113.8 520.0 113.5C521.7 113.2 523.3 112.9 525.0 112.5C526.7 112.1 528.3 111.7 530.0 111.3C531.7 110.9 533.3 110.4 535.0 110.0C536.7 109.6 538.3 109.2 540.0 108.7C541.7 108.2 543.3 107.5 545.0 107.0C546.7 106.5 548.3 105.9 550.0 105.5C551.7 105.1 553.7 104.5 555.0 104.5C556.3 104.5 556.8 104.9 558.0 105.5C559.2 106.1 560.7 107.1 562.0 108.0C563.3 108.9 564.7 110.0 566.0 111.0C567.3 112.0 568.5 112.9 570.0 113.7C571.5 114.5 573.3 115.3 575.0 116.0C576.7 116.7 578.5 117.2 580.0 118.0C581.5 118.8 582.7 119.5 584.0 120.5C585.3 121.5 586.7 122.5 588.0 123.7C589.3 124.9 590.8 126.3 592.0 127.5C593.2 128.7 593.7 129.5 595.0 130.8C596.3 132.1 598.3 134.0 600.0 135.5C601.7 137.0 603.3 138.6 605.0 140.0C606.7 141.4 608.3 142.7 610.0 144.0C611.7 145.3 613.5 146.8 615.0 148.0C616.5 149.2 617.8 150.5 619.0 151.5C620.2 152.5 621.0 153.1 622.0 153.8C623.0 154.6 624.0 155.3 625.0 156.0C626.0 156.7 627.5 157.7 628.0 158.0" fill="none" stroke="#e8502f" stroke-width="1.45" stroke-linejoin="round"/>
<text class="ax" x="629.8" y="46.6">35.00</text>
<text class="ax" x="629.8" y="68.6">34.00</text>
<text class="ax" x="629.8" y="91.1">33.00</text>
<text class="ax" x="629.8" y="113.1">32.00</text>
<text class="ax" x="629.8" y="135.6">31.00</text>
<text class="ax" x="629.8" y="179.6">29.00</text>
<rect x="628.2" y="113.2" width="35.5" height="8.6" fill="#4d4d4d"/>
<text class="tg" x="630.7" y="120.1">31.73</text>
<rect x="628.2" y="156.6" width="35.5" height="5.4" fill="#6e1f14"/>
<text class="tg" x="630.7" y="161.9">29.95</text>
<rect x="628.2" y="147.8" width="35.5" height="8.5" fill="#2f8583"/>
<text class="tg" x="630.7" y="154.7">30.18</text>
<rect x="628.2" y="156.1" width="35.5" height="0.6" fill="#a89a50"/>
<rect x="628.2" y="185.1" width="35.5" height="8.0" fill="#555555"/>
<text class="tg" x="630.7" y="191.7">28.49</text>
<g stroke="#2c4a7c" stroke-width="1.5">
<path d="M39.5 258.3V267.4"/><path d="M44.3 258.3V266.4"/><path d="M49.1 258.3V264.6"/><path d="M54.0 258.3V262.3"/><path d="M58.8 258.3V261.2"/><path d="M63.6 258.3V260.5"/><path d="M68.4 258.2V259.6"/><path d="M73.3 258.3V262.3"/><path d="M78.1 258.3V268.0"/><path d="M82.9 258.3V271.5"/><path d="M87.7 258.3V273.8"/><path d="M92.6 258.3V275.6"/><path d="M97.4 258.3V275.6"/><path d="M102.2 258.3V272.6"/><path d="M107.0 258.3V268.7"/><path d="M111.9 258.3V265.0"/><path d="M116.7 258.3V262.3"/><path d="M121.5 258.3V260.3"/><path d="M126.3 255.9V258.9"/><path d="M131.2 252.0V258.9"/><path d="M136.0 249.7V258.9"/><path d="M140.8 249.2V258.9"/><path d="M145.6 249.7V258.9"/><path d="M150.5 252.0V258.9"/><path d="M155.3 250.8V258.9"/><path d="M160.1 248.5V258.9"/><path d="M164.9 248.0V258.9"/><path d="M169.7 248.5V258.9"/><path d="M174.6 254.3V258.9"/><path d="M179.4 257.3V258.9"/><path d="M184.2 258.2V259.6"/><path d="M189.0 258.3V260.6"/><path d="M193.9 258.3V262.3"/><path d="M198.7 258.3V262.3"/><path d="M203.5 258.3V261.8"/><path d="M208.3 258.3V261.2"/><path d="M213.2 258.2V259.6"/><path d="M218.0 250.8V258.9"/><path d="M222.8 245.1V258.9"/><path d="M227.6 242.1V258.9"/><path d="M232.5 239.8V258.9"/><path d="M237.3 239.8V258.9"/><path d="M242.1 241.2V258.9"/><path d="M246.9 243.5V258.9"/><path d="M251.8 246.7V258.9"/><path d="M256.6 252.0V258.9"/><path d="M261.4 255.9V258.9"/><path d="M266.2 258.2V259.6"/><path d="M271.1 258.3V261.0"/><path d="M275.9 258.3V262.3"/><path d="M280.7 258.3V262.3"/><path d="M285.5 258.3V261.8"/><path d="M290.3 258.3V261.0"/><path d="M295.2 258.2V259.6"/><path d="M300.0 258.2V259.6"/><path d="M304.8 256.0V258.9"/><path d="M309.6 256.6V258.9"/><path d="M314.5 258.2V259.6"/><path d="M319.3 258.2V259.6"/><path d="M324.1 258.3V261.0"/><path d="M328.9 253.6V258.9"/><path d="M333.8 252.7V258.9"/><path d="M338.6 255.9V258.9"/><path d="M343.4 258.2V259.6"/><path d="M348.2 258.2V259.6"/><path d="M353.1 258.2V259.6"/><path d="M357.9 258.2V259.6"/><path d="M362.7 258.2V259.6"/><path d="M367.5 258.2V259.6"/><path d="M372.4 258.2V259.6"/><path d="M377.2 258.2V259.6"/><path d="M382.0 258.2V259.6"/><path d="M386.8 258.3V263.5"/><path d="M391.7 258.3V266.9"/><path d="M396.5 258.3V271.0"/><path d="M401.3 258.3V273.8"/><path d="M406.1 258.3V273.8"/><path d="M410.9 258.3V273.8"/><path d="M415.8 258.3V273.3"/><path d="M420.6 258.3V271.9"/><path d="M425.4 258.3V270.3"/><path d="M430.2 258.3V270.3"/><path d="M435.1 258.3V270.3"/><path d="M439.9 258.3V268.7"/><path d="M444.7 258.3V266.4"/><path d="M449.5 258.3V263.5"/><path d="M454.4 258.3V261.2"/><path d="M459.2 258.2V259.6"/><path d="M464.0 255.4V258.9"/><path d="M468.8 253.6V258.9"/><path d="M473.7 252.0V258.9"/><path d="M478.5 251.5V258.9"/><path d="M483.3 252.7V258.9"/><path d="M488.1 255.4V258.9"/><path d="M493.0 258.2V259.6"/><path d="M497.8 258.3V262.3"/><path d="M502.6 258.3V265.0"/><path d="M507.4 258.3V266.9"/><path d="M512.3 258.3V267.4"/><path d="M517.1 258.3V265.7"/><path d="M521.9 258.3V262.3"/><path d="M526.7 258.2V259.6"/><path d="M531.5 255.0V258.9"/><path d="M536.4 254.3V258.9"/><path d="M541.2 253.1V258.9"/><path d="M546.0 252.0V258.9"/><path d="M550.8 250.4V258.9"/><path d="M555.7 252.0V258.9"/><path d="M560.5 255.0V258.9"/><path d="M565.3 258.2V259.6"/><path d="M570.1 258.3V262.8"/><path d="M575.0 258.3V263.5"/><path d="M579.8 258.3V263.5"/><path d="M584.6 258.3V262.8"/><path d="M589.4 258.3V265.0"/><path d="M594.3 258.3V266.9"/><path d="M599.1 258.3V268.7"/><path d="M603.9 258.3V268.0"/><path d="M608.7 258.3V267.4"/><path d="M613.6 258.3V266.9"/><path d="M618.4 258.3V265.7"/><path d="M623.2 258.3V265.7"/>
</g>
<path d="M39.5 236.0C40.4 236.4 43.2 237.9 45.0 238.7C46.8 239.4 48.3 239.9 50.0 240.5C51.7 241.1 53.3 241.7 55.0 242.1C56.7 242.5 58.3 242.6 60.0 242.8C61.7 243.0 63.3 243.2 65.0 243.5C66.7 243.8 68.3 243.9 70.0 244.4C71.7 244.9 73.3 245.6 75.0 246.7C76.7 247.8 78.3 249.2 80.0 250.9C81.7 252.6 83.3 254.7 85.0 256.6C86.7 258.5 88.3 260.6 90.0 262.3C91.7 264.0 93.3 265.6 95.0 266.9C96.7 268.2 98.3 269.1 100.0 270.3C101.7 271.5 103.3 272.9 105.0 273.8C106.7 274.8 108.3 275.3 110.0 276.0C111.7 276.7 113.3 277.4 115.0 277.9C116.7 278.4 118.3 278.7 120.0 278.8C121.7 278.9 123.3 278.9 125.0 278.4C126.7 277.9 128.3 276.9 130.0 276.0C131.7 275.1 133.3 274.1 135.0 273.3C136.7 272.5 138.3 271.8 140.0 271.0C141.7 270.2 143.3 269.5 145.0 268.7C146.7 267.9 148.3 267.2 150.0 266.4C151.7 265.6 153.3 264.9 155.0 264.1C156.7 263.4 158.3 262.8 160.0 261.9C161.7 261.0 163.3 259.7 165.0 258.9C166.7 258.1 168.3 257.8 170.0 257.3C171.7 256.8 173.3 256.4 175.0 255.9C176.7 255.4 178.3 254.6 180.0 254.5C181.7 254.4 183.3 255.1 185.0 255.6C186.7 256.1 188.3 256.9 190.0 257.3C191.7 257.7 193.3 257.9 195.0 258.2C196.7 258.5 198.3 258.7 200.0 258.9C201.7 259.1 203.3 259.5 205.0 259.6C206.7 259.7 208.3 259.8 210.0 259.6C211.7 259.4 213.3 259.1 215.0 258.2C216.7 257.3 218.3 255.7 220.0 254.3C221.7 252.9 223.3 251.3 225.0 249.7C226.7 248.0 228.3 246.2 230.0 244.4C231.7 242.6 233.3 240.7 235.0 238.9C236.7 237.1 238.3 235.3 240.0 233.7C241.7 232.1 243.3 230.4 245.0 229.1C246.7 227.8 248.3 226.9 250.0 226.1C251.7 225.3 253.3 224.9 255.0 224.5C256.7 224.1 258.3 223.9 260.0 223.8C261.7 223.7 263.3 223.6 265.0 223.8C266.7 224.0 268.3 224.8 270.0 225.2C271.7 225.6 273.3 225.7 275.0 226.1C276.7 226.5 278.3 227.2 280.0 227.5C281.7 227.8 283.3 227.8 285.0 227.9C286.7 228.1 288.3 228.3 290.0 228.4C291.7 228.5 293.3 228.5 295.0 228.4C296.7 228.3 298.3 228.1 300.0 227.9C301.7 227.8 303.3 227.6 305.0 227.5C306.7 227.4 308.3 227.4 310.0 227.5C311.7 227.6 313.3 227.8 315.0 227.9C316.7 228.0 318.3 228.0 320.0 227.9C321.7 227.8 323.3 227.7 325.0 227.5C326.7 227.3 328.3 226.9 330.0 226.5C331.7 226.1 333.3 225.7 335.0 225.3C336.7 224.9 338.3 224.3 340.0 224.3C341.7 224.3 343.3 225.0 345.0 225.2C346.7 225.4 348.3 225.4 350.0 225.6C351.7 225.8 353.3 226.0 355.0 226.1C356.7 226.2 358.3 226.2 360.0 226.1C361.7 226.0 363.3 225.7 365.0 225.6C366.7 225.5 368.3 225.6 370.0 225.6C371.7 225.6 373.3 225.5 375.0 225.6C376.7 225.7 378.3 226.0 380.0 226.1C381.7 226.2 383.3 225.8 385.0 226.1C386.7 226.4 388.3 227.0 390.0 227.9C391.7 228.8 393.3 230.1 395.0 231.4C396.7 232.8 398.3 234.5 400.0 236.0C401.7 237.5 403.3 239.0 405.0 240.5C406.7 242.0 408.3 243.6 410.0 245.1C411.7 246.6 413.3 248.2 415.0 249.7C416.7 251.2 418.3 252.9 420.0 254.3C421.7 255.7 423.3 257.1 425.0 258.2C426.7 259.3 428.3 260.1 430.0 261.2C431.7 262.3 433.3 263.6 435.0 264.6C436.7 265.6 438.3 266.4 440.0 267.4C441.7 268.3 443.3 269.4 445.0 270.3C446.7 271.2 448.3 272.1 450.0 272.6C451.7 273.1 453.3 273.3 455.0 273.3C456.7 273.3 458.3 272.9 460.0 272.6C461.7 272.3 463.3 272.0 465.0 271.5C466.7 271.0 468.3 270.2 470.0 269.6C471.7 269.0 473.3 268.4 475.0 268.0C476.7 267.6 478.3 267.3 480.0 266.9C481.7 266.5 483.3 266.0 485.0 265.7C486.7 265.4 488.3 265.0 490.0 265.0C491.7 265.0 493.3 265.4 495.0 265.7C496.7 266.0 498.3 266.3 500.0 266.9C501.7 267.5 503.3 268.4 505.0 269.2C506.7 270.0 508.3 270.7 510.0 271.5C511.7 272.3 513.3 273.1 515.0 273.8C516.7 274.5 518.3 275.2 520.0 275.6C521.7 276.1 523.3 276.4 525.0 276.5C526.7 276.6 528.3 276.3 530.0 276.0C531.7 275.7 533.3 275.3 535.0 274.9C536.7 274.4 538.3 273.9 540.0 273.3C541.7 272.7 543.3 272.2 545.0 271.5C546.7 270.8 548.3 269.9 550.0 269.2C551.7 268.5 553.3 267.8 555.0 267.4C556.7 267.0 558.3 266.9 560.0 266.9C561.7 266.9 563.3 267.1 565.0 267.4C566.7 267.7 568.3 268.2 570.0 268.7C571.7 269.2 573.3 269.8 575.0 270.3C576.7 270.8 578.3 271.1 580.0 271.5C581.7 271.9 583.3 272.2 585.0 272.6C586.7 273.1 588.3 273.6 590.0 274.2C591.7 274.8 593.3 275.6 595.0 276.5C596.7 277.4 598.3 278.5 600.0 279.5C601.7 280.5 603.3 281.6 605.0 282.5C606.7 283.4 608.3 284.4 610.0 285.2C611.7 286.0 613.3 286.5 615.0 287.1C616.7 287.7 618.3 288.1 620.0 288.7C621.7 289.3 623.8 290.4 625.0 291.0C626.2 291.6 626.7 291.8 627.0 292.0" fill="none" stroke="#cf70b6" stroke-width="1"/>
<path d="M39.5 245.8C40.4 246.2 43.2 247.7 45.0 248.0C46.8 248.3 48.3 247.7 50.0 247.4C51.7 247.1 53.3 246.6 55.0 246.3C56.7 246.0 58.3 245.8 60.0 245.8C61.7 245.8 63.3 246.0 65.0 246.3C66.7 246.6 68.3 246.5 70.0 247.4C71.7 248.3 73.3 249.7 75.0 252.0C76.7 254.3 78.3 258.1 80.0 261.2C81.7 264.2 83.3 267.6 85.0 270.3C86.7 273.0 88.3 275.1 90.0 277.2C91.7 279.3 93.3 281.6 95.0 283.0C96.7 284.4 98.7 285.1 100.0 285.7C101.3 286.3 101.3 286.5 103.0 286.4C104.7 286.3 108.0 285.6 110.0 285.2C112.0 284.8 113.3 284.8 115.0 284.0C116.7 283.2 118.3 282.0 120.0 280.6C121.7 279.2 123.3 277.5 125.0 275.6C126.7 273.7 128.3 271.0 130.0 269.2C131.7 267.4 133.3 266.1 135.0 265.0C136.7 263.9 138.3 263.0 140.0 262.3C141.7 261.6 143.3 261.1 145.0 260.7C146.7 260.3 148.3 260.8 150.0 260.0C151.7 259.2 153.3 257.2 155.0 255.9C156.7 254.6 158.3 253.2 160.0 252.0C161.7 250.8 163.3 249.6 165.0 249.0C166.7 248.4 168.3 248.1 170.0 248.6C171.7 249.1 173.3 251.0 175.0 252.0C176.7 253.0 178.3 253.7 180.0 254.6C181.7 255.5 183.3 256.4 185.0 257.3C186.7 258.2 188.3 259.2 190.0 260.0C191.7 260.8 193.3 261.5 195.0 261.9C196.7 262.3 198.3 262.3 200.0 262.3C201.7 262.3 203.3 262.2 205.0 261.9C206.7 261.6 208.7 261.1 210.0 260.7C211.3 260.3 211.8 261.1 213.0 259.6C214.2 258.2 215.5 255.0 217.0 252.0C218.5 249.0 220.3 244.8 222.0 241.7C223.7 238.6 225.3 236.2 227.0 233.7C228.7 231.2 230.3 228.8 232.0 226.8C233.7 224.8 235.3 223.0 237.0 221.5C238.7 220.0 240.3 218.8 242.0 217.6C243.7 216.4 245.7 215.1 247.0 214.6C248.3 214.1 248.7 214.1 250.0 214.6C251.3 215.1 253.3 216.4 255.0 217.6C256.7 218.8 258.3 220.3 260.0 221.5C261.7 222.7 263.3 223.5 265.0 224.5C266.7 225.5 268.3 226.7 270.0 227.5C271.7 228.3 273.3 228.7 275.0 229.1C276.7 229.5 278.3 229.9 280.0 230.2C281.7 230.5 283.3 230.7 285.0 230.7C286.7 230.7 288.3 230.5 290.0 230.2C291.7 229.9 293.3 229.5 295.0 229.1C296.7 228.7 298.3 228.4 300.0 227.9C301.7 227.4 303.3 226.3 305.0 226.1C306.7 225.9 308.3 226.5 310.0 226.8C311.7 227.1 313.3 227.7 315.0 227.9C316.7 228.1 318.5 227.7 320.0 227.9C321.5 228.1 322.7 229.7 324.0 229.1C325.3 228.5 326.8 225.8 328.0 224.5C329.2 223.2 330.0 222.2 331.0 221.5C332.0 220.8 332.8 219.9 334.0 220.0C335.2 220.1 336.5 221.3 338.0 222.2C339.5 223.1 341.3 224.9 343.0 225.6C344.7 226.2 346.3 225.8 348.0 226.1C349.7 226.4 351.3 227.3 353.0 227.5C354.7 227.7 356.3 227.9 358.0 227.5C359.7 227.1 361.3 225.5 363.0 225.2C364.7 224.9 366.3 225.6 368.0 225.6C369.7 225.6 371.3 225.1 373.0 225.2C374.7 225.3 376.3 225.8 378.0 226.1C379.7 226.4 381.5 225.9 383.0 226.8C384.5 227.7 385.5 229.3 387.0 231.4C388.5 233.5 390.3 236.9 392.0 239.4C393.7 241.9 395.3 244.0 397.0 246.3C398.7 248.6 400.3 251.1 402.0 253.1C403.7 255.1 405.3 256.5 407.0 258.2C408.7 259.9 410.3 262.1 412.0 263.5C413.7 264.9 415.3 265.4 417.0 266.4C418.7 267.4 420.3 268.7 422.0 269.6C423.7 270.5 425.3 271.3 427.0 271.9C428.7 272.5 430.3 272.5 432.0 273.3C433.7 274.1 435.3 275.6 437.0 276.5C438.7 277.4 440.7 278.2 442.0 278.8C443.3 279.4 443.7 280.4 445.0 280.2C446.3 280.0 448.3 278.7 450.0 277.9C451.7 277.1 453.3 276.6 455.0 275.6C456.7 274.6 458.3 273.2 460.0 271.9C461.7 270.6 463.3 269.1 465.0 268.0C466.7 266.9 468.3 265.9 470.0 265.0C471.7 264.1 473.3 263.0 475.0 262.3C476.7 261.6 478.3 261.2 480.0 261.0C481.7 260.8 483.3 260.7 485.0 261.2C486.7 261.7 488.3 263.0 490.0 264.1C491.7 265.2 493.3 266.6 495.0 268.0C496.7 269.4 498.3 271.1 500.0 272.6C501.7 274.1 503.3 275.7 505.0 277.2C506.7 278.7 508.7 280.8 510.0 281.8C511.3 282.8 511.7 283.4 513.0 283.4C514.3 283.4 516.3 282.6 518.0 281.8C519.7 281.0 521.3 279.8 523.0 278.8C524.7 277.8 526.5 276.6 528.0 275.6C529.5 274.6 530.5 273.5 532.0 272.6C533.5 271.7 535.3 271.2 537.0 270.3C538.7 269.4 540.3 268.4 542.0 267.4C543.7 266.4 545.3 265.1 547.0 264.1C548.7 263.1 550.5 261.8 552.0 261.2C553.5 260.6 554.7 260.3 556.0 260.7C557.3 261.1 558.5 262.3 560.0 263.5C561.5 264.7 563.3 266.6 565.0 268.0C566.7 269.4 568.3 270.9 570.0 271.9C571.7 272.9 573.3 273.6 575.0 274.2C576.7 274.8 578.3 275.2 580.0 275.6C581.7 276.0 583.3 275.7 585.0 276.5C586.7 277.3 588.3 278.9 590.0 280.2C591.7 281.5 593.3 282.7 595.0 284.1C596.7 285.5 598.3 287.4 600.0 288.7C601.7 290.0 603.3 291.2 605.0 292.1C606.7 293.0 608.3 293.5 610.0 294.0C611.7 294.5 613.3 294.5 615.0 294.9C616.7 295.3 618.3 295.7 620.0 296.3C621.7 296.9 623.8 298.1 625.0 298.5C626.2 298.9 626.7 298.9 627.0 299.0" fill="none" stroke="#3d5c94" stroke-width="1"/>
<text class="ax" x="629.8" y="232.9">0.60</text>
<text class="ax" x="629.8" y="269.9">-0.20</text>
<text class="ax" x="629.8" y="289.6">-0.60</text>
<rect x="628.2" y="244.2" width="35.5" height="8.4" fill="#7b7b3e"/>
<text class="tg" x="630.7" y="251.0">0.23</text>
<rect x="628.2" y="269.2" width="35.5" height="8.4" fill="#2f8583"/>
<text class="tg" x="630.6" y="276.0">-0.30</text>
<rect x="628.2" y="280.0" width="35.5" height="8.4" fill="#6e3f94"/>
<text class="tg" x="630.6" y="286.8">-0.52</text>
<path d="M39.5 358.5H628" stroke="#767676" stroke-width="1"/>
<polyline points="39.5,359.2 44.3,357.8 49.1,354.4 54.0,354.9 58.8,357.8 63.6,358.0 68.4,358.0 73.3,365.6 78.1,391.2 82.9,371.6 87.7,364.0 92.6,368.5 97.4,360.9 102.2,354.4 107.0,352.5 111.9,356.8 116.7,351.3 121.5,358.0 126.3,349.6 131.2,351.3 136.0,356.1 140.8,359.0 145.6,359.0 150.5,359.0 155.3,356.1 160.1,351.3 164.9,356.8 169.7,359.7 174.6,366.4 179.4,360.4 184.2,360.9 189.0,362.0 193.9,358.5 198.7,357.3 203.5,356.8 208.3,356.6 213.2,355.4 218.0,316.2 222.8,332.2 227.6,349.7 232.5,351.3 237.3,355.4 242.1,358.0 246.9,356.8 251.8,361.6 256.6,364.5 261.4,358.0 266.2,356.8 271.1,359.2 275.9,358.5 280.7,354.9 285.5,358.0 290.3,356.1 295.2,355.6 300.0,358.0 304.8,353.7 309.6,357.3 314.5,359.7 319.3,356.6 324.1,360.2 328.9,307.6 333.8,343.0 338.6,362.6 343.4,361.6 348.2,355.4 353.1,358.5 357.9,355.4 362.7,354.4 367.5,358.0 372.4,357.8 377.2,358.0 382.0,357.8 386.8,364.5 391.7,362.6 396.5,362.6 401.3,362.0 406.1,356.8 410.9,360.4 415.8,358.0 420.6,357.3 425.4,358.5 430.2,359.2 435.1,361.4 439.9,356.8 444.7,358.5 449.5,353.3 454.4,357.3 459.2,356.6 464.0,357.3 468.8,356.6 473.7,356.8 478.5,356.8 483.3,360.9 488.1,364.5 493.0,362.8 497.8,362.0 502.6,360.4 507.4,362.0 512.3,359.7 517.1,353.3 521.9,353.7 526.7,355.4 531.5,354.4 536.4,358.0 541.2,357.3 546.0,356.6 550.8,357.3 555.7,360.9 560.5,363.3 565.3,362.6 570.1,362.0 575.0,358.0 579.8,357.8 584.6,357.8 589.4,367.3 594.3,365.0 599.1,363.8 603.9,359.0 608.7,357.8 613.6,358.5 618.4,358.5 623.2,361.6 626.0,359.0" fill="none" stroke="#a850aa" stroke-width="1.3" stroke-linejoin="round"/>
<text class="ax" x="630.6" y="322.6">4,000,00...</text>
<text class="ax" x="630.6" y="342.2">2,000,00...</text>
<text class="ax" x="629.8" y="380.2">-2,000,0...</text>
<rect x="628.2" y="304.4" width="35.5" height="8.5" fill="#2b4b82"/>
<text class="tg" x="630.8" y="311.2">5,277,013.</text>
<rect x="628.2" y="356.1" width="35.5" height="8.6" fill="#2f8472"/>
<text class="tg" x="630.2" y="363.0">-102,144.4</text>
</svg>
</body></html>
